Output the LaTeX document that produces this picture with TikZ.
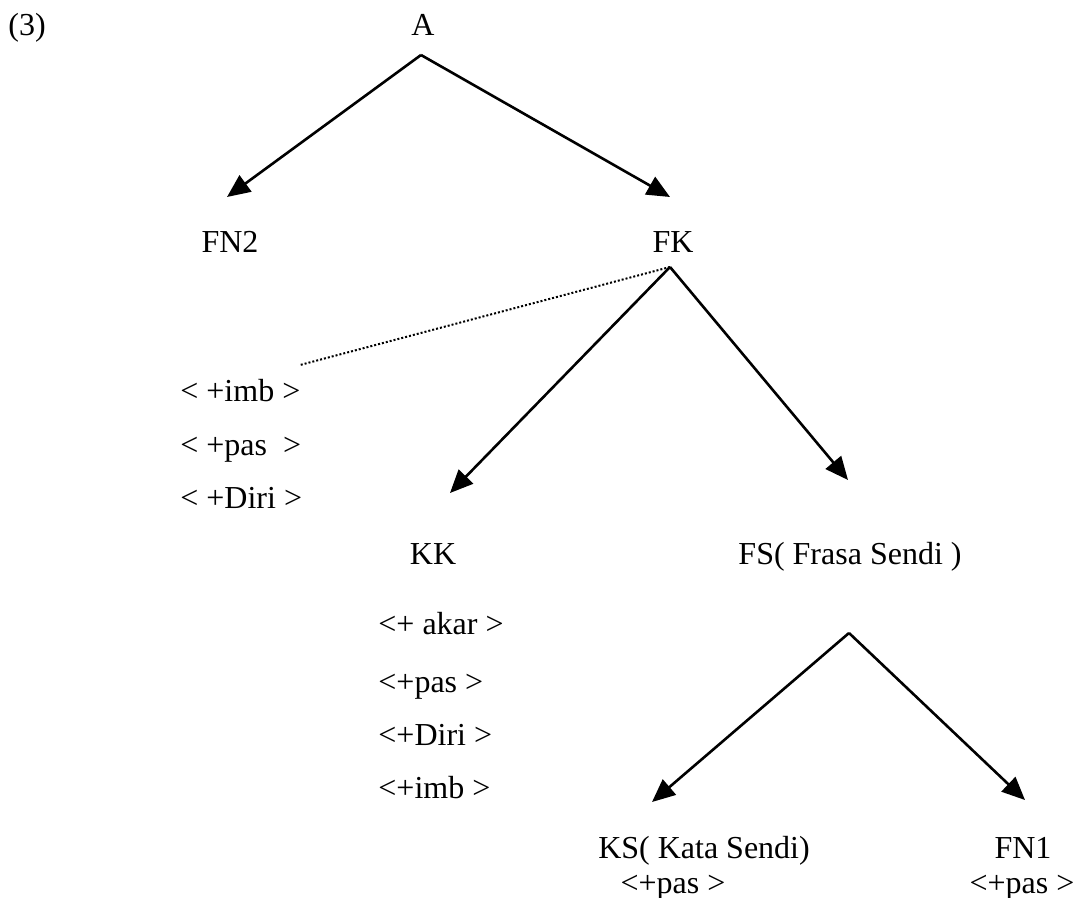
\documentclass[tikz,border=0pt]{standalone}
\usepackage{fontspec}
\setmainfont{Liberation Serif}
\usetikzlibrary{arrows.meta}
\begin{document}
\begin{tikzpicture}[x=0.5pt,y=-0.5pt,
  lbl/.style={inner sep=0pt, anchor=base, font=\fontsize{16pt}{19pt}\selectfont},
  attr/.style={lbl, anchor=base west},
  arr/.style={line width=1.3pt, -{Triangle[length=11.5pt,width=10pt]}},
  dotline/.style={line width=1pt, densely dotted}]
\useasboundingbox (0,0) rectangle (1080,898);
% labels
\node[attr] (num) at (8,36) {(3)};
\node[lbl] (A) at (423,36) {A};
\node[lbl] (FN2) at (230,253) {FN2};
\node[lbl] (FK) at (673,253) {FK};
\node[attr] (a1) at (180,401) {< +imb >};
\node[attr] (a2) at (180,455) {< +pas \ >};
\node[attr] (a3) at (180,508) {< +Diri >};
\node[lbl] (KK) at (433,564) {KK};
\node[lbl] (FS) at (850,564) {FS( Frasa Sendi )};
\node[attr] (k1) at (378,634) {<+ akar >};
\node[attr] (k2) at (378,692) {<+pas >};
\node[attr] (k3) at (378,745) {<+Diri >};
\node[attr] (k4) at (378,798) {<+imb >};
\node[lbl] (KS) at (704,858) {KS( Kata Sendi)};
\node[lbl] (KSp) at (673,893) {<+pas >};
\node[lbl] (FN1) at (1023,858) {FN1};
\node[lbl] (FN1p) at (1022,893) {<+pas >};
% connector end points
\coordinate (Ab) at (421,55);
\coordinate (FN2t) at (227,197);
\coordinate (FKt) at (670,197);
\coordinate (FKb) at (670,267);
\coordinate (KKt) at (450,493);
\coordinate (FSt) at (848,480);
\coordinate (a1t) at (300,365);
\coordinate (FSb) at (849,633);
\coordinate (KSt) at (652,802);
\coordinate (FN1t) at (1025,800);
% connectors
\draw[arr] (Ab) -- (FN2t);
\draw[arr] (Ab) -- (FKt);
\draw[arr] (FKb) -- (KKt);
\draw[arr] (FKb) -- (FSt);
\draw[dotline] (FKb) -- (a1t);
\draw[arr] (FSb) -- (KSt);
\draw[arr] (FSb) -- (FN1t);
\end{tikzpicture}
\end{document}
